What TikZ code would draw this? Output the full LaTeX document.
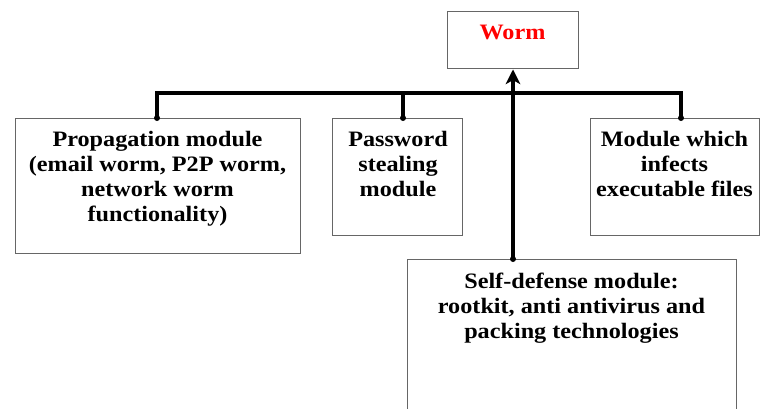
\documentclass[tikz,border=0pt]{standalone}
\usepackage{fontspec}
\setmainfont{Liberation Serif}
\newfontfamily\boxfont{Liberation Serif}[FakeStretch=1.1]
\usetikzlibrary{arrows.meta}
\begin{document}
\begin{tikzpicture}[x=0.75pt,y=-0.75pt,
  boxframe/.style={draw=black!60, line width=1.1pt, inner sep=0pt, anchor=north west},
  boxtext/.style={anchor=north, align=center, inner sep=0pt,
    font=\boxfont\bfseries\fontsize{16.5}{18.75}\selectfont},
  link/.style={line width=2.4pt, black},
  joint/.style={circle, fill=black, inner sep=0pt, minimum size=4.5pt}]
\useasboundingbox (0,0) rectangle (762,408);

% frames (sizes in pt: 1px = 0.75pt)
\node[boxframe, minimum width=98.25pt, minimum height=42.75pt] (worm) at (447,11) {};
\node[boxframe, minimum width=213.75pt, minimum height=101.25pt] (prop) at (15,118) {};
\node[boxframe, minimum width=97.5pt, minimum height=87.75pt] (pass) at (332,118) {};
\node[boxframe, minimum width=126.75pt, minimum height=87.75pt] (infect) at (590,118) {};
\node[boxframe, minimum width=246.75pt, minimum height=150pt] (self) at (407,259) {};

% texts
\node[boxtext, text=red] (wormT) at (512.5,25) {Worm};
\node[boxtext] (propT) at (157.5,130.5) {Propagation module\\(email worm, P2P worm,\\network worm\\functionality)};
\node[boxtext] (passT) at (398,130.5) {Password\\stealing\\module};
\node[boxtext] (infectT) at (674.5,130.5) {Module which\\infects\\executable files};
\node[boxtext] (selfT) at (571.5,273) {Self-defense module:\\rootkit, anti antivirus and\\packing technologies};

% connection points
\coordinate (bus) at (513,93);
\node[joint] (jp) at (prop.north -| 157,0) {};
\node[joint] (jw) at (pass.north -| 403,0) {};
\node[joint] (ji) at (infect.north -| 681,0) {};
\node[joint] (js) at (self.north -| 513,0) {};

% bus from the worm box to its modules
\draw[link, line join=miter] (jp.center) |- (bus) -| (ji.center);
\draw[link] (jw.center) -- (jw.center |- bus);
\draw[link, -{Stealth[length=11pt,width=11pt,inset=3pt]}] (js.center) -- (worm.south -| js);
\end{tikzpicture}
\end{document}
